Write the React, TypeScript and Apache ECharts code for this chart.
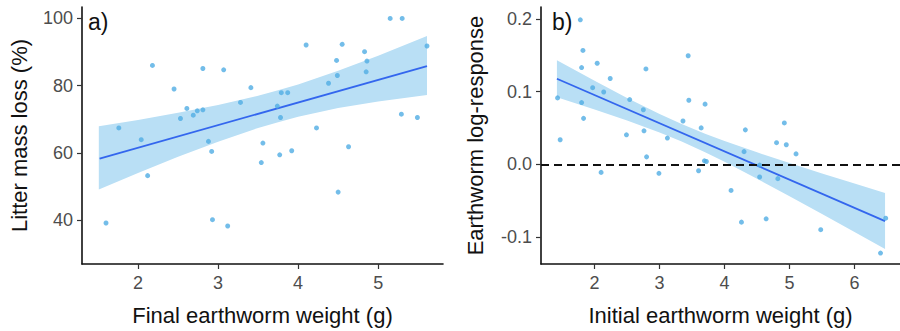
import React, { useEffect, useRef } from "react";
import * as echarts from "echarts";

// ---- Panel a) data ----
const finalWeight = [1.6, 1.76, 2.04, 2.12, 2.18, 2.45, 2.53, 2.61, 2.69, 2.74, 2.81, 2.81, 2.88, 2.92, 2.93, 3.07, 3.12, 3.28, 3.41, 3.54, 3.56, 3.74, 3.77, 3.78, 3.79, 3.87, 3.92, 4.1, 4.23, 4.38, 4.49, 4.48, 4.5, 4.55, 4.63, 4.83, 4.85, 4.86, 5.15, 5.3, 5.29, 5.49, 5.61];
const massLoss = [39.1, 67.4, 63.9, 53.2, 86.0, 79.0, 70.2, 73.2, 71.2, 72.5, 72.8, 85.1, 63.4, 60.4, 40.1, 84.7, 38.2, 75.0, 79.4, 57.1, 62.9, 73.9, 59.4, 70.5, 77.9, 77.9, 60.6, 92.1, 67.4, 80.7, 83.0, 87.5, 48.3, 92.3, 61.8, 90.1, 84.1, 87.3, 100, 100, 71.5, 70.5, 91.8];
const fitAX = [1.52, 5.61];
const fitAY = [58.3, 85.8];
const bandAX = [1.51, 2.0, 2.5, 3.0, 3.5, 3.75, 4.0, 4.5, 5.0, 5.61];
const bandAUpper = [67.9, 69.8, 71.9, 74.2, 77.0, 78.6, 80.3, 84.4, 88.9, 94.8];
const bandALower = [49.1, 54.0, 58.8, 63.3, 67.4, 69.1, 70.7, 73.3, 75.3, 77.2];
const ticksAX = [2, 3, 4, 5];
const ticksAY = [40, 60, 80, 100];

// ---- Panel b) data ----
const initialWeight = [1.43, 1.47, 1.78, 1.82, 1.8, 1.8, 1.83, 1.97, 2.04, 2.14, 2.1, 2.24, 2.54, 2.49, 2.75, 2.76, 2.79, 2.8, 2.99, 3.12, 3.36, 3.44, 3.45, 3.64, 3.7, 3.6, 3.69, 3.72, 4.1, 4.26, 4.3, 4.32, 4.54, 4.54, 4.64, 4.8, 4.82, 4.92, 4.95, 5.1, 5.48, 6.4, 6.48];
const logResponse = [0.0914, 0.0339, 0.1986, 0.1566, 0.133, 0.085, 0.0633, 0.1054, 0.139, 0.0995, -0.0109, 0.118, 0.0891, 0.0407, 0.0751, 0.0462, 0.1312, 0.0104, -0.0122, 0.0362, 0.0597, 0.1493, 0.0882, 0.0502, 0.0828, -0.0086, 0.005, 0.0041, -0.0357, -0.0792, 0.0176, 0.0475, -0.0009, -0.0172, -0.0747, 0.0299, -0.0195, 0.057, 0.0271, 0.0145, -0.0896, -0.1217, -0.0738];
const fitBX = [1.42, 6.47];
const fitBY = [0.1177, -0.0778];
const bandBX = [1.42, 2.0, 2.5, 3.0, 3.34, 3.7, 4.0, 4.5, 5.0, 5.5, 6.0, 6.47];
const bandBUpper = [0.1431, 0.115, 0.0914, 0.0692, 0.0554, 0.0422, 0.0322, 0.0166, 0.002, -0.0123, -0.0262, -0.0392];
const bandBLower = [0.0923, 0.0756, 0.0604, 0.044, 0.0314, 0.0168, 0.0036, -0.0196, -0.0436, -0.0681, -0.0928, -0.1162];
const refLineB = [0];
const ticksBX = [2, 3, 4, 5, 6];
const ticksBY = [-0.1, 0, 0.1, 0.2];

const FONT = "Liberation Sans, Arial, sans-serif";
const POINT_COLOR = "#50ade3";
const LINE_COLOR = "#3366ee";
const BAND_COLOR = "#b9dff5";

function bandSeries(xAxisIndex: number, xs: number[], up: number[], lo: number[]) {
  return {
    type: "custom",
    xAxisIndex,
    yAxisIndex: xAxisIndex,
    silent: true,
    z: 1,
    data: [[xs[0], up[0]]],
    renderItem: (params: any, api: any) => {
      if (params.dataIndex !== 0) return null;
      const pts: number[][] = [];
      for (let i = 0; i < xs.length; i++) pts.push(api.coord([xs[i], up[i]]));
      for (let i = xs.length - 1; i >= 0; i--) pts.push(api.coord([xs[i], lo[i]]));
      return { type: "polygon", shape: { points: pts }, style: { fill: BAND_COLOR } };
    },
  };
}

function xAxisCfg(gridIndex: number, min: number, max: number, ticks: number[], name: string) {
  return {
    type: "value",
    gridIndex,
    min,
    max,
    name,
    nameLocation: "middle",
    nameGap: 40,
    nameTextStyle: { fontFamily: FONT, fontSize: 22, color: "#111" },
    splitLine: { show: false },
    axisLine: { show: true, onZero: false, lineStyle: { color: "#111", width: 1.6 } },
    axisTick: { show: true, length: 5, customValues: ticks, lineStyle: { color: "#333", width: 1.2 } },
    axisLabel: { customValues: ticks, fontFamily: FONT, fontSize: 18, color: "#4d4d4d", margin: 10 },
  };
}

function yAxisCfg(gridIndex: number, min: number, max: number, ticks: number[], name: string, gap: number, fmt: (v: number) => string) {
  return {
    type: "value",
    gridIndex,
    min,
    max,
    name,
    nameLocation: "middle",
    nameGap: gap,
    nameTextStyle: { fontFamily: FONT, fontSize: 22, color: "#111" },
    splitLine: { show: false },
    axisLine: { show: true, onZero: false, lineStyle: { color: "#111", width: 1.6 } },
    axisTick: { show: true, length: 5, customValues: ticks, lineStyle: { color: "#333", width: 1.2 } },
    axisLabel: { customValues: ticks, fontFamily: FONT, fontSize: 18, color: "#4d4d4d", margin: 9, formatter: fmt },
  };
}

export default function App() {
  const ref = useRef<HTMLDivElement>(null);
  useEffect(() => {
    if (!ref.current) return;
    const chart = echarts.init(ref.current, null, { renderer: "svg" });
    chart.setOption({
      animation: false,
      backgroundColor: "#ffffff",
      textStyle: { fontFamily: FONT },
      grid: [
        { left: 82, top: 7, width: 361, height: 260 },
        { left: 541, top: 7, width: 359, height: 260 },
      ],
      xAxis: [
        xAxisCfg(0, 1.3, 5.81, ticksAX, "Final earthworm weight (g)"),
        xAxisCfg(1, 1.175, 6.7, ticksBX, "Initial earthworm weight (g)"),
      ],
      yAxis: [
        yAxisCfg(0, 26.9, 103.4, ticksAY, "Litter mass loss (%)", 52, (v: number) => String(v)),
        yAxisCfg(1, -0.1367, 0.2162, ticksBY, "Earthworm log-response", 55, (v: number) => v.toFixed(1)),
      ],
      graphic: [
        { type: "text", left: 88, top: 10, style: { text: "a)", fontFamily: FONT, fontSize: 23, fill: "#111" } },
        { type: "text", left: 552, top: 10, style: { text: "b)", fontFamily: FONT, fontSize: 23, fill: "#111" } },
      ],
      series: [
        bandSeries(0, bandAX, bandAUpper, bandALower),
        {
          type: "line",
          xAxisIndex: 0,
          yAxisIndex: 0,
          data: fitAX.map((x, i) => [x, fitAY[i]]),
          showSymbol: false,
          lineStyle: { color: LINE_COLOR, width: 1.8 },
          z: 3,
        },
        {
          type: "scatter",
          xAxisIndex: 0,
          yAxisIndex: 0,
          data: finalWeight.map((x, i) => [x, massLoss[i]]),
          symbolSize: 5,
          itemStyle: { color: POINT_COLOR },
          z: 4,
        },
        bandSeries(1, bandBX, bandBUpper, bandBLower),
        {
          type: "line",
          xAxisIndex: 1,
          yAxisIndex: 1,
          data: fitBX.map((x, i) => [x, fitBY[i]]),
          showSymbol: false,
          lineStyle: { color: LINE_COLOR, width: 1.8 },
          z: 3,
          markLine: {
            silent: true,
            symbol: "none",
            label: { show: false },
            lineStyle: { color: "#111", type: [8, 5], width: 1.8 },
            data: refLineB.map((v) => ({ yAxis: v })),
          },
        },
        {
          type: "scatter",
          xAxisIndex: 1,
          yAxisIndex: 1,
          data: initialWeight.map((x, i) => [x, logResponse[i]]),
          symbolSize: 5,
          itemStyle: { color: POINT_COLOR },
          z: 4,
        },
      ],
    });
    return () => chart.dispose();
  }, []);
  return <div ref={ref} style={{ position: "fixed", left: 0, top: 0, width: 900, height: 331 }} />;
}
